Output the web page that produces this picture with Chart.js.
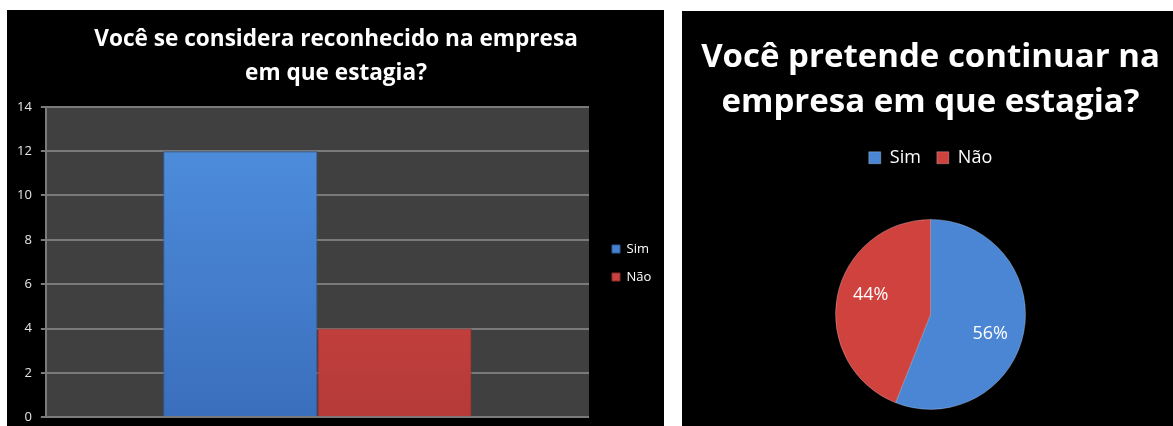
<!DOCTYPE html>
<html lang="pt-BR">
<head>
<meta charset="utf-8">
<title>Estágio - pesquisa</title>
<script src="https://cdn.jsdelivr.net/npm/chart.js@4.4.1/dist/chart.umd.min.js"></script>
<style>
  html, body { margin: 0; padding: 0; background: #fff; }
  body { width: 1173px; height: 426px; position: relative; overflow: hidden; }
  .panel { position: absolute; background: #000; overflow: hidden; }
  .panel canvas { display: block; }
  #leftPanel { left: 7px; top: 10px; width: 657px; height: 416px; }
  #rightPanel { left: 682px; top: 11px; width: 491px; height: 415px; }
</style>
</head>
<body>
<div class="panel" id="leftPanel"><canvas id="barChart" width="657" height="424"></canvas></div>
<div class="panel" id="rightPanel"><canvas id="pieChart" width="491" height="415"></canvas></div>
<script>
// dados
const barTitle = ['Você se considera reconhecido na empresa', 'em que estagia?'];
const pieTitle = ['Você pretende continuar na', 'empresa em que estagia?'];
const answers = ['Sim', 'Não'];
const recognizedCounts = [12, 4];
const stayPercents = [56, 44];
const yMin = 0;
const yMax = 14;
const yStep = 2;

const blueTop = '#5090e0', blueBottom = '#3a6fbd';
const redTop = '#dd4b49', redBottom = '#b53a38';
const barGradients = [[blueTop, blueBottom], [redTop, redBottom]];

Chart.defaults.font.family = "'Open Sans', sans-serif";
Chart.defaults.color = '#fff';

// fundo cinza da área de plotagem
const plotBackground = {
  id: 'plotBackground',
  beforeDraw(chart) {
    const { ctx, chartArea } = chart;
    ctx.save();
    ctx.fillStyle = '#404040';
    ctx.fillRect(chartArea.left, chartArea.top, chartArea.right - chartArea.left, chartArea.bottom - chartArea.top);
    ctx.restore();
  }
};

// largura fixa da legenda e deslocamento dos itens
const barLegendBox = {
  id: 'barLegendBox',
  beforeInit(chart) {
    const origFit = chart.legend.fit;
    chart.legend.fit = function () {
      origFit.call(this);
      this.width = 75;
    };
  },
  afterLayout(chart) {
    const lg = chart.legend;
    lg.left += 8;
    lg.top += 41;
    lg.bottom += 41;
  }
};

const pieLegendBox = {
  id: 'pieLegendBox',
  beforeInit(chart) {
    const origFit = chart.legend.fit;
    chart.legend.fit = function () {
      origFit.call(this);
      this.height += 33;
    };
  }
};

// rótulos de porcentagem dentro das fatias
const sliceLabels = {
  id: 'sliceLabels',
  afterDatasetsDraw(chart) {
    const { ctx } = chart;
    const meta = chart.getDatasetMeta(0);
    ctx.save();
    ctx.font = "18px 'Open Sans', sans-serif";
    ctx.fillStyle = '#fff';
    ctx.textAlign = 'center';
    ctx.textBaseline = 'middle';
    meta.data.forEach((arc, i) => {
      const p = arc.getProps(['x', 'y', 'startAngle', 'endAngle', 'outerRadius'], true);
      const mid = (p.startAngle + p.endAngle) / 2 + 0.12;
      const r = p.outerRadius * 0.66;
      ctx.fillText(stayPercents[i] + '%', p.x + Math.cos(mid) * r, p.y + Math.sin(mid) * r);
    });
    ctx.restore();
  }
};

function barFill(i) {
  return (context) => {
    const { ctx, chartArea } = context.chart;
    if (!chartArea) return barGradients[i][0];
    const g = ctx.createLinearGradient(0, chartArea.top, 0, chartArea.bottom);
    g.addColorStop(0, barGradients[i][0]);
    g.addColorStop(1, barGradients[i][1]);
    return g;
  };
}

new Chart(document.getElementById('barChart'), {
  type: 'bar',
  data: {
    labels: [''],
    datasets: answers.map((answer, i) => ({
      label: answer,
      data: [recognizedCounts[i]],
      backgroundColor: barFill(i),
      borderColor: i === 0 ? '#2f5d9e' : '#8e2d2b',
      borderWidth: 1,
      categoryPercentage: 0.568,
      barPercentage: 1
    }))
  },
  options: {
    responsive: false,
    animation: false,
    layout: { padding: { left: 1, right: 0, top: 0, bottom: 0 } },
    plugins: {
      title: {
        display: true,
        text: barTitle,
        color: '#fff',
        font: { size: 22.6, weight: 'bold', lineHeight: 1.5 },
        padding: { top: 13, bottom: 16 }
      },
      legend: {
        position: 'right',
        labels: {
          color: '#fff',
          font: { size: 13 },
          boxWidth: 8,
          boxHeight: 8,
          padding: 15
        }
      },
      tooltip: { enabled: false }
    },
    scales: {
      x: { display: false },
      y: {
        min: yMin,
        max: yMax,
        ticks: { stepSize: yStep, color: '#e6e6e6', font: { size: 13 }, padding: 9 },
        grid: { color: '#7a7a7a', lineWidth: 2, tickLength: 5 },
        border: { color: '#7a7a7a', width: 2 }
      }
    }
  },
  plugins: [plotBackground, barLegendBox]
});

new Chart(document.getElementById('pieChart'), {
  type: 'pie',
  data: {
    labels: answers,
    datasets: [{
      data: stayPercents,
      backgroundColor: ['#4a86d4', '#cf423e'],
      borderColor: 'rgba(255,255,255,0.25)',
      borderWidth: 1,
      radius: 95
    }]
  },
  options: {
    responsive: false,
    animation: false,
    layout: { padding: { left: 6, right: 0, top: 0, bottom: 7 } },
    plugins: {
      title: {
        display: true,
        text: pieTitle,
        color: '#fff',
        font: { size: 33, weight: 'bold', lineHeight: 1.36 },
        padding: { top: 24, bottom: 8 }
      },
      legend: {
        position: 'top',
        labels: {
          color: '#fff',
          font: { size: 18 },
          boxWidth: 12,
          boxHeight: 12,
          padding: 16
        }
      },
      tooltip: { enabled: false }
    }
  },
  plugins: [pieLegendBox, sliceLabels]
});
</script>
</body>
</html>
